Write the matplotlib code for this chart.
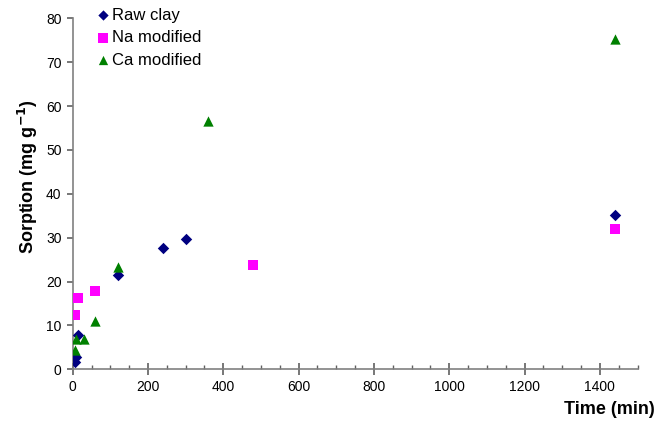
import matplotlib
matplotlib.use("Agg")
import matplotlib.pyplot as plt
from matplotlib.ticker import MultipleLocator

plt.rcParams['font.family'] = ['Liberation Sans', 'DejaVu Sans']

raw_t = [5, 10, 15, 120, 240, 300, 1440]
raw_y = [1.7, 2.7, 7.8, 21.4, 27.7, 29.6, 35.2]
na_t = [5, 15, 60, 480, 1440]
na_y = [12.4, 16.3, 17.8, 23.8, 31.9]
ca_t = [5, 10, 30, 60, 120, 360, 1440]
ca_y = [4.5, 6.9, 6.9, 10.9, 23.4, 56.5, 75.2]
labels = ["Raw clay", "Na modified", "Ca modified"]

fig = plt.figure(figsize=(6.69, 4.25), dpi=100)
ax = fig.add_axes([72.7/669, 1-369.3/425, 564.8/669, 350.9/425])

ax.scatter(raw_t, raw_y, marker='D', s=34, color='#000080', label=labels[0], zorder=3, linewidths=0)
ax.scatter(na_t, na_y, marker='s', s=60, color='#FF00FF', label=labels[1], zorder=3, linewidths=0)
ax.scatter(ca_t, ca_y, marker='^', s=55, color='#008000', label=labels[2], zorder=3, linewidths=0)

ax.set_xlim(0, 1500)
ax.set_ylim(0, 80)
ax.xaxis.set_major_locator(MultipleLocator(200))
ax.xaxis.set_minor_locator(MultipleLocator(50))
ax.yaxis.set_major_locator(MultipleLocator(10))

for s in ['top', 'right']:
    ax.spines[s].set_visible(False)
for s in ['left', 'bottom']:
    ax.spines[s].set_color('#808080')
    ax.spines[s].set_linewidth(1.2)

ax.tick_params(axis='x', which='major', direction='inout', length=8, width=1.2, color='#606060', labelsize=10, pad=4)
ax.tick_params(axis='x', which='minor', direction='in', length=3, width=1, color='#606060')
ax.tick_params(axis='y', which='major', direction='out', length=4, width=1.2, color='#606060', labelsize=10, pad=4)

fig.text(609/669, 1-410/425, "Time (min)", fontsize=13, fontweight='bold', ha='center', va='center')
fig.text(28/669, 1-177/425, r"Sorption (mg g$^{\mathbf{-1}}$)", fontsize=13, fontweight='bold',
         rotation=90, ha='center', va='center')

leg = ax.legend(loc='upper left', bbox_to_anchor=(88/669, 1-1/425), bbox_transform=fig.transFigure,
                frameon=False, fontsize=12, handletextpad=0.05, labelspacing=0.45, borderaxespad=0,
                handlelength=1.0, scatterpoints=1, markerscale=0.9)

fig.savefig("out.png", dpi=100)
